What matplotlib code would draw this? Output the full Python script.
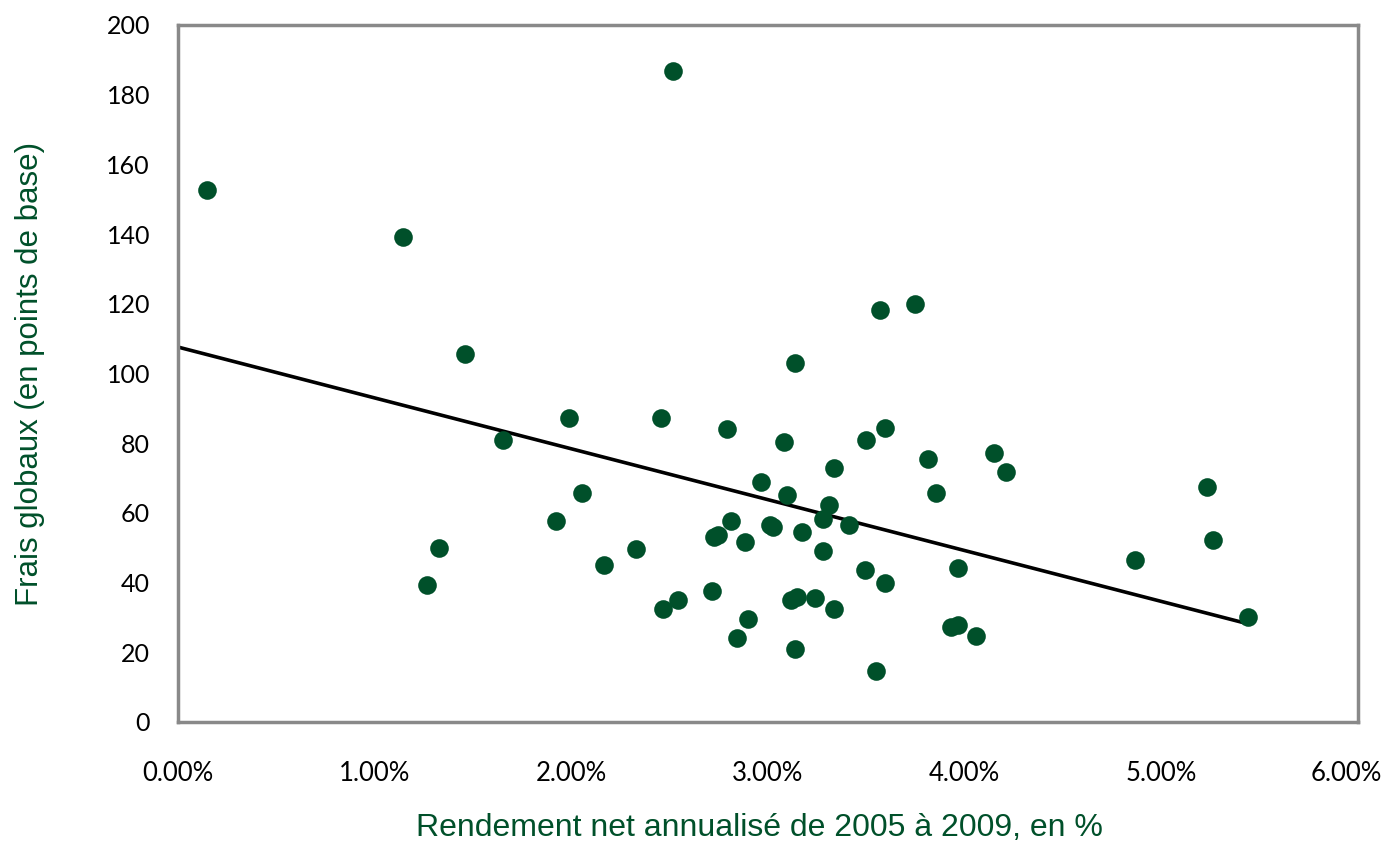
import numpy as np
import matplotlib.pyplot as plt
from matplotlib.transforms import ScaledTranslation

# rendement net annualise (%) et frais globaux (points de base)
rendement = [0.147, 1.144, 2.517, 1.459, 1.653, 1.266, 1.327, 1.988, 2.054, 1.922,
             2.166, 2.329, 2.456, 2.466, 2.542, 2.715, 2.725, 2.746, 2.791, 2.812,
             2.842, 2.883, 2.898, 2.964, 3.010, 3.025, 3.081, 3.097, 3.117, 3.137,
             3.137, 3.147, 3.173, 3.239, 3.280, 3.280, 3.310, 3.336, 3.336, 3.412,
             3.493, 3.498, 3.549, 3.569, 3.595, 3.595, 3.747, 3.813, 3.854, 3.930,
             3.966, 3.966, 4.058, 4.149, 4.210, 4.866, 5.232, 5.263, 5.441]
frais = [152.6, 139.2, 186.8, 105.6, 80.9, 39.3, 49.9, 87.2, 65.7, 57.7,
         45.0, 49.6, 87.2, 32.4, 35.0, 37.6, 53.1, 53.7, 84.1, 57.7,
         24.1, 51.6, 29.6, 68.9, 56.5, 56.0, 80.3, 65.1, 35.0, 103.0,
         20.9, 35.9, 54.5, 35.6, 58.2, 49.1, 62.3, 72.9, 32.4, 56.5,
         43.6, 80.9, 14.6, 118.2, 84.4, 39.9, 119.9, 75.5, 65.7, 27.3,
         27.8, 44.2, 24.7, 77.2, 71.7, 46.5, 67.4, 52.2, 30.1]

# droite de tendance
tendance_origine = 107.6
tendance_pente = -14.6

x_ticks = [0, 1, 2, 3, 4, 5, 6]
x_labels = ['0.00%', '1.00%', '2.00%', '3.00%', '4.00%', '5.00%', '6.00%']

x = np.array(rendement)
y = np.array(frais)

vert = '#00502A'
gris = '#898989'

fig = plt.figure(figsize=(13.89, 8.41), dpi=100)
ax = fig.add_axes([0.128, 0.1415, 0.8497, 0.8288])

ax.scatter(x, y, s=180, color=vert, zorder=3, linewidths=0)
xl = np.array([0, x.max()])
ax.plot(xl, tendance_origine + tendance_pente * xl, color='black',
        linewidth=2.6, zorder=2, solid_capstyle='butt')

ax.set_xlim(0, 6)
ax.set_ylim(0, 200)
ax.set_xticks(x_ticks)
ax.set_xticklabels(x_labels, fontsize=18.5, fontfamily='Lato')
ax.set_yticks(np.arange(0, 201, 20))
ax.tick_params(length=0)
ax.tick_params(axis='x', pad=28)
ax.tick_params(axis='y', pad=20, labelsize=18, labelfontfamily='Lato')

# le dernier libelle est rentre pour rester dans l'image
dernier = ax.get_xticklabels()[-1]
dernier.set_transform(dernier.get_transform() +
                      ScaledTranslation(-0.12, 0, fig.dpi_scale_trans))

for s in ax.spines.values():
    s.set_color(gris)
    s.set_linewidth(2.5)

ax.set_xlabel('Rendement net annualisé de 2005 à 2009, en %', color=vert,
              fontsize=23, family='Liberation Sans')
ax.xaxis.set_label_coords(0.4925, -0.13)
ax.set_ylabel('Frais globaux (en points de base)', color=vert,
              fontsize=22.5, family='Liberation Sans', labelpad=44)

fig.savefig('out.png', dpi=100)
